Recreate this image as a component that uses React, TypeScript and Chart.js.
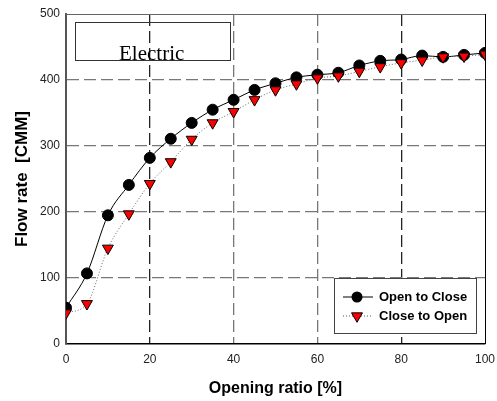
import React, { useEffect, useRef } from "react";
import { Chart, registerables } from "chart.js";

Chart.register(...registerables);

const openingRatio = [0, 5, 10, 15, 20, 25, 30, 35, 40, 45, 50, 55, 60, 65, 70, 75, 80, 85, 90, 95, 100];
const openToClose = [55, 107, 195, 241, 282, 311, 335, 355, 370, 385, 395, 404, 408, 411, 422, 429, 431, 437, 435, 438, 441];
const closeToOpen = [47, 61, 145, 197, 243, 276, 310, 335, 352, 370, 385, 394, 403, 406, 413, 420, 426, 430, 435, 436, 439];
const seriesNames = ["Open to Close", "Close to Open"];
const xTitle = "Opening ratio [%]";
const yTitle = "Flow rate  [CMM]";
const boxLabel = "Electric";

const overlayPlugin = {
  id: "overlay",
  afterDatasetsDraw(chart: any) {
    const ctx = chart.ctx;
    const a = chart.chartArea;
    ctx.save();
    ctx.setLineDash([]);
    ctx.lineWidth = 1;
    ctx.strokeStyle = "#666";
    ctx.beginPath();
    ctx.moveTo(a.left, a.top + 0.5);
    ctx.lineTo(a.right, a.top + 0.5);
    ctx.stroke();
    ctx.strokeStyle = "#000";
    ctx.beginPath();
    ctx.moveTo(a.right + 0.5, a.top);
    ctx.lineTo(a.right + 0.5, a.bottom);
    ctx.stroke();

    // Electric box
    ctx.strokeStyle = "#333";
    ctx.strokeRect(75.5, 22.5, 155, 38);
    ctx.fillStyle = "#000";
    ctx.font = "21px 'Liberation Serif', 'Times New Roman', serif";
    ctx.textAlign = "left";
    ctx.textBaseline = "alphabetic";
    ctx.fillText(boxLabel, 119, 60);

    // Legend
    const lx = 334, ly = 278, lw = 142, lh = 55;
    ctx.fillStyle = "#fff";
    ctx.fillRect(lx, ly, lw, lh);
    ctx.strokeStyle = "#444";
    ctx.strokeRect(lx + 0.5, ly + 0.5, lw, lh);
    const rows = [297, 316];
    ctx.strokeStyle = "#000";
    ctx.lineWidth = 1;
    ctx.beginPath();
    ctx.moveTo(343, rows[0]);
    ctx.lineTo(373, rows[0]);
    ctx.stroke();
    ctx.fillStyle = "#000";
    ctx.beginPath();
    ctx.arc(357, rows[0], 5.5, 0, Math.PI * 2);
    ctx.fill();
    ctx.setLineDash([1, 2]);
    ctx.strokeStyle = "#555";
    ctx.beginPath();
    ctx.moveTo(343, rows[1]);
    ctx.lineTo(373, rows[1]);
    ctx.stroke();
    ctx.setLineDash([]);
    const r = 6.3;
    ctx.fillStyle = "#ff0000";
    ctx.strokeStyle = "#000";
    ctx.beginPath();
    ctx.moveTo(357 - r * 0.866, rows[1] - r * 0.5);
    ctx.lineTo(357 + r * 0.866, rows[1] - r * 0.5);
    ctx.lineTo(357, rows[1] + r);
    ctx.closePath();
    ctx.fill();
    ctx.stroke();
    ctx.fillStyle = "#000";
    ctx.font = "bold 13px Arial, 'Liberation Sans', sans-serif";
    ctx.textBaseline = "middle";
    ctx.fillText(seriesNames[0], 379, rows[0]);
    ctx.fillText(seriesNames[1], 379, rows[1]);
    ctx.restore();
  },
};

export default function App() {
  const ref = useRef<HTMLCanvasElement>(null);
  useEffect(() => {
    if (!ref.current) return;
    const gridColorY = (c: any) => {
      const v = c.tick ? c.tick.value : 0;
      if (v === 0 || v === 500) return "rgba(0,0,0,0)";
      return "#777";
    };
    const gridColorX = (c: any) => {
      const v = c.tick ? c.tick.value : 0;
      if (v === 0 || v === 100) return "rgba(0,0,0,0)";
      if (v === 20 || v === 80) return "#222";
      return "#777";
    };
    const chart = new Chart(ref.current, {
      type: "line",
      data: {
        datasets: [
          {
            label: seriesNames[1],
            data: openingRatio.map((x, i) => ({ x, y: closeToOpen[i] })),
            borderColor: "#666",
            borderWidth: 1,
            borderDash: [1, 2],
            pointStyle: "triangle",
            rotation: 180,
            pointRadius: 6.3,
            pointBackgroundColor: "#ff0000",
            pointBorderColor: "#000",
            pointBorderWidth: 1,
            cubicInterpolationMode: "monotone",
            fill: false,
            order: 0,
          },
          {
            label: seriesNames[0],
            data: openingRatio.map((x, i) => ({ x, y: openToClose[i] })),
            borderColor: "#000",
            borderWidth: 1,
            pointStyle: "circle",
            pointRadius: 5.5,
            pointBackgroundColor: "#000",
            pointBorderColor: "#000",
            pointBorderWidth: 1,
            cubicInterpolationMode: "monotone",
            fill: false,
            order: 1,
          },
        ],
      },
      options: {
        responsive: false,
        animation: false,
        layout: { padding: { top: 14, right: 12, left: 0, bottom: 0 } },
        plugins: { legend: { display: false }, tooltip: { enabled: false } },
        scales: {
          x: {
            type: "linear",
            min: 0,
            max: 100,
            afterFit: (s: any) => {
              s.height = 57;
              s.paddingLeft = 0;
              s.paddingRight = 0;
            },
            ticks: {
              stepSize: 20,
              padding: 8,
              color: "#222",
              font: { family: "Arial, 'Liberation Sans', sans-serif", size: 12 },
            },
            grid: {
              drawTicks: false,
              color: gridColorX,
              lineWidth: 1.3,
            },
            border: { display: true, color: "#000", width: 1.5, dash: [12, 5] },
            title: {
              display: true,
              text: xTitle,
              color: "#000",
              font: { family: "Arial, 'Liberation Sans', sans-serif", size: 16, weight: "bold" },
              padding: { top: 0, bottom: 3 },
            },
          },
          y: {
            type: "linear",
            min: 0,
            max: 500,
            afterFit: (s: any) => {
              s.width = 66;
              s.paddingTop = 0;
              s.paddingBottom = 0;
            },
            ticks: {
              stepSize: 100,
              padding: 6,
              color: "#222",
              font: { family: "Arial, 'Liberation Sans', sans-serif", size: 12 },
            },
            grid: {
              drawTicks: false,
              color: gridColorY,
              lineWidth: 1.3,
            },
            border: { display: true, color: "#555", width: 2, dash: [12, 5] },
            title: {
              display: true,
              text: yTitle,
              color: "#000",
              font: { family: "Arial, 'Liberation Sans', sans-serif", size: 17, weight: "bold" },
              padding: { top: 12, bottom: 0 },
            },
          },
        },
      },
      plugins: [overlayPlugin],
    } as any);
    return () => chart.destroy();
  }, []);
  return (
    <div style={{ position: "fixed", left: 0, top: 0, width: 497, height: 401, background: "#fff" }}>
      <canvas ref={ref} width={497} height={401} style={{ width: 497, height: 401 }} />
    </div>
  );
}
